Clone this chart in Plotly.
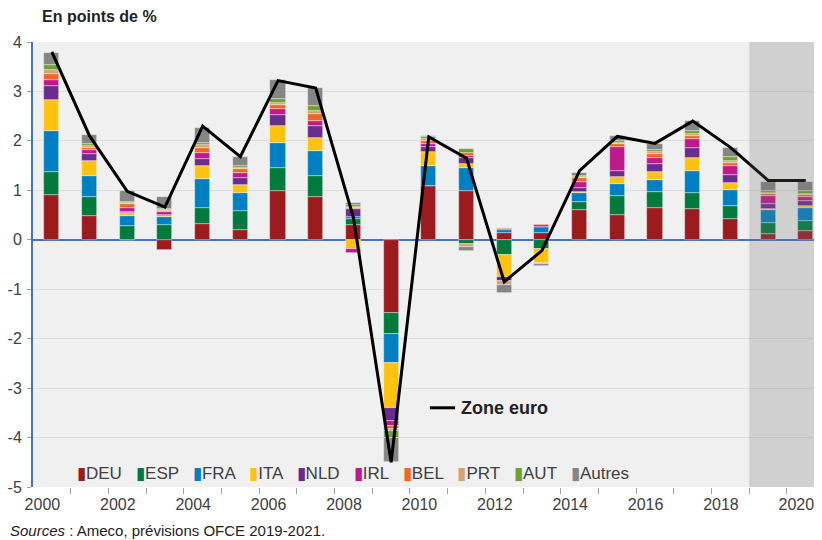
import plotly.graph_objects as go

years = list(range(2000, 2021))

DEU = [0.91, 0.49, 0.00, -0.20, 0.32, 0.20, 0.99, 0.87, 0.30, -1.48, 1.08, 0.98, 0.14, 0.14, 0.61, 0.51, 0.64, 0.63, 0.42, 0.12, 0.17]
ESP = [0.46, 0.38, 0.27, 0.30, 0.32, 0.39, 0.47, 0.41, 0.12, -0.42, 0.00, -0.09, -0.30, -0.19, 0.15, 0.37, 0.32, 0.32, 0.26, 0.22, 0.20]
FRA = [0.82, 0.42, 0.22, 0.16, 0.59, 0.35, 0.50, 0.52, 0.05, -0.60, 0.41, 0.47, 0.05, 0.12, 0.18, 0.24, 0.24, 0.44, 0.32, 0.26, 0.27]
ITA = [0.64, 0.30, 0.05, 0.03, 0.27, 0.17, 0.35, 0.26, -0.19, -0.91, 0.28, 0.09, -0.46, -0.27, 0.02, 0.15, 0.18, 0.26, 0.14, 0.02, 0.05]
NLD = [0.28, 0.15, 0.02, 0.02, 0.13, 0.13, 0.22, 0.24, 0.15, -0.25, 0.11, 0.11, -0.08, 0.00, 0.09, 0.12, 0.15, 0.20, 0.17, 0.11, 0.10]
IRL = [0.12, 0.07, 0.09, 0.05, 0.13, 0.11, 0.11, 0.11, -0.07, -0.10, 0.05, 0.05, 0.02, 0.03, 0.12, 0.49, 0.12, 0.18, 0.18, 0.15, 0.07]
BEL = [0.13, 0.05, 0.07, 0.02, 0.10, 0.09, 0.09, 0.13, 0.03, -0.07, 0.07, 0.05, 0.02, 0.02, 0.07, 0.05, 0.08, 0.06, 0.07, 0.04, 0.05]
PRT = [0.07, 0.03, 0.02, 0.02, 0.05, 0.02, 0.03, 0.06, 0.02, -0.04, 0.03, -0.05, -0.07, -0.03, 0.03, 0.03, 0.04, 0.05, 0.03, 0.03, 0.02]
AUT = [0.11, 0.04, 0.03, 0.02, 0.05, 0.04, 0.09, 0.10, 0.03, -0.13, 0.05, 0.09, 0.01, 0.01, 0.02, 0.03, 0.05, 0.07, 0.09, 0.04, 0.05]
AUTRES = [0.24, 0.18, 0.21, 0.24, 0.30, 0.18, 0.38, 0.37, 0.05, -0.49, 0.01, -0.08, -0.16, -0.05, 0.07, 0.10, 0.12, 0.19, 0.18, 0.18, 0.19]

ZONE_EURO = [3.80, 2.10, 0.98, 0.66, 2.30, 1.68, 3.22, 3.07, 0.45, -4.50, 2.08, 1.65, -0.85, -0.22, 1.40, 2.09, 1.95, 2.40, 1.87, 1.20, 1.20]

series_names = ["DEU", "ESP", "FRA", "ITA", "NLD", "IRL", "BEL", "PRT", "AUT", "Autres"]
series_values = [DEU, ESP, FRA, ITA, NLD, IRL, BEL, PRT, AUT, AUTRES]
series_colors = ["#9B1B1F", "#007A3D", "#0080C3", "#FFC20E", "#6A2C91", "#C0198C",
                 "#F26522", "#D4A373", "#6EA12E", "#858585"]

label_years = list(range(2000, 2021, 2))
y_ticks = list(range(-5, 5))
forecast_start = 2019

FONT = "Liberation Sans, Arial, sans-serif"
TXT = "#404040"

fig = go.Figure()
for name, vals, col in zip(series_names, series_values, series_colors):
    fig.add_trace(go.Bar(x=years, y=vals, name=name, marker_color=col,
                         marker_line=dict(color="rgba(255,255,255,0.55)", width=0.7),
                         width=0.4, showlegend=False))

fig.add_trace(go.Scatter(x=years, y=ZONE_EURO, mode="lines", name="Zone euro",
                         line=dict(color="black", width=3), showlegend=False))

# legend as real text
legend_text = "   ".join(
    f"<span style='color:{c}'>▮</span>{n}" for n, c in zip(series_names, series_colors))

# the page body adds an 8px offset, so the figure is 8px smaller than the window
fig.update_layout(
    width=814, height=532,
    margin=dict(l=25, r=0, t=34, b=53),
    paper_bgcolor="white",
    plot_bgcolor="#F0F0F0",
    barmode="relative",
    bargap=0,
    font=dict(family=FONT, size=16, color=TXT),
    xaxis=dict(
        range=[1999.5, 2020.43],
        automargin=False,
        tickvals=[y - 0.25 for y in label_years],
        ticktext=[str(y) for y in label_years],
        ticks="", showgrid=False, zeroline=False, showline=False,
        ticklabelstandoff=6,
        tickfont=dict(size=16, color=TXT),
        minor=dict(tickvals=[y - 0.5 for y in years[1:]], ticks="outside",
                   ticklen=6, tickcolor="#A0A0A0", showgrid=False),
    ),
    yaxis=dict(
        range=[-5, 4],
        automargin=False,
        tickvals=y_ticks,
        ticktext=[str(v) for v in y_ticks],
        ticks="outside", ticklen=4, tickcolor="#A0A0A0",
        showgrid=True, gridcolor="#DCDCDC", gridwidth=1,
        zeroline=True, zerolinecolor="#4472C4", zerolinewidth=2,
        showline=True, linecolor="#4472C4", linewidth=2,
        tickfont=dict(size=16, color=TXT),
        ticklabelstandoff=2,
    ),
    shapes=[
        dict(type="rect", xref="x", yref="paper", x0=forecast_start - 0.5, x1=2021,
             y0=0, y1=1, fillcolor="rgba(110,110,115,0.25)", line=dict(width=0),
             layer="above"),
        dict(type="line", xref="paper", yref="paper", x0=0.503, x1=0.535,
             y0=0.178, y1=0.178, line=dict(color="black", width=3)),
    ],
    annotations=[
        dict(text="<b>En points de %</b>", xref="paper", yref="paper",
             x=0.009, y=1.058, xanchor="left", yanchor="middle", showarrow=False,
             font=dict(size=16, color="#222222")),
        dict(text="<i>Sources</i> : Ameco, prévisions OFCE 2019-2021.",
             xref="paper", yref="paper", x=-0.032, y=-0.097, xanchor="left",
             yanchor="middle", showarrow=False, font=dict(size=15, color="#222222")),
        dict(text="<b>Zone euro</b>", xref="paper", yref="paper", x=0.54, y=0.178,
             xanchor="left", yanchor="middle", showarrow=False,
             font=dict(size=18, color="#222222")),
        dict(text=legend_text, xref="paper", yref="paper", x=0.053, y=0.03,
             xanchor="left", yanchor="middle", showarrow=False,
             font=dict(size=17, color=TXT)),
    ],
)

fig.write_html("out.html")
